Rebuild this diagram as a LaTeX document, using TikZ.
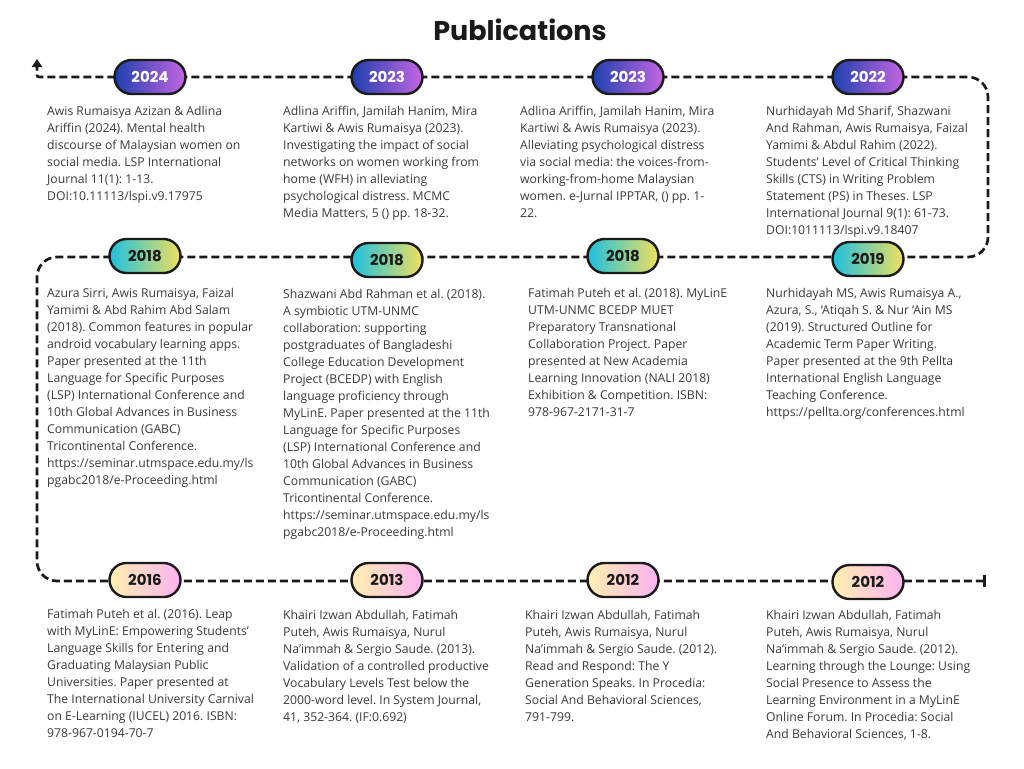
\documentclass[tikz,border=0pt]{standalone}
\usepackage{fontspec}
\setmainfont{Open Sans}
\newfontfamily\popfont{Poppins}
\usetikzlibrary{arrows.meta, positioning, backgrounds}
\frenchspacing

\definecolor{ink}{HTML}{1A1A1A}
\definecolor{bodytext}{HTML}{3A3A3A}
\definecolor{navy}{HTML}{1E3FAE}
\definecolor{orchid}{HTML}{C466E2}
\definecolor{aqua}{HTML}{1EC0DE}
\definecolor{lemon}{HTML}{F0E05E}
\definecolor{cream}{HTML}{FFF0B0}
\definecolor{rosy}{HTML}{FCB2F2}

\begin{document}
\begin{tikzpicture}[
  x=1pt, y=-1pt,
  every node/.style={font=\fontsize{12.2}{17}\selectfont, text=bodytext},
  pill/.style={rectangle, rounded corners=17pt, draw=ink, line width=2.4pt,
    minimum width=71pt, minimum height=34pt, inner sep=0pt,
    font=\popfont\bfseries\fontsize{15}{18}\selectfont},
  recent/.style={pill, left color=navy, right color=orchid, text=white},
  middle/.style={pill, left color=aqua, right color=lemon, text=ink},
  early/.style={pill, left color=cream, right color=rosy, text=ink},
  ref/.style={anchor=north west, align=left, inner sep=0pt},
  tl/.style={draw=ink, line width=2.7pt, dash pattern=on 8pt off 4pt, rounded corners=20pt}
]
\useasboundingbox (0,0) rectangle (1024,768);

% Title
\node[font=\popfont\bfseries\fontsize{27}{30}\selectfont, text=ink] (title) at (520,30) {Publications};

% Year pills
\node[recent] (y2024)  at (150,77)  {2024};
\node[recent] (y2023a) at (387,77)  {2023};
\node[recent] (y2023b) at (628,77)  {2023};
\node[recent] (y2022)  at (868,77)  {2022};
\node[middle] (y2018a) at (145,256) {2018};
\node[middle] (y2018b) at (387,260) {2018};
\node[middle] (y2018c) at (623,256) {2018};
\node[middle] (y2019)  at (868,259) {2019};
\node[early]  (y2016)  at (145,580) {2016};
\node[early]  (y2013)  at (387,580) {2013};
\node[early]  (y2012a) at (623,580) {2012};
\node[early]  (y2012b) at (868,582) {2012};

% References, top row
\node[ref] (r2024) at (47,106) {Awis Rumaisya Azizan \& Adlina\\Ariffin (2024). Mental health\\discourse of Malaysian women on\\social media. LSP International\\Journal 11(1): 1-13.\\DOI:10.11113/lspi.v9.17975};
\node[ref] (r2023a) at (283,106) {Adlina Ariffin, Jamilah Hanim, Mira\\Kartiwi \& Awis Rumaisya (2023).\\Investigating the impact of social\\networks on women working from\\home (WFH) in alleviating\\psychological distress. MCMC\\Media Matters, 5 () pp. 18-32.};
\node[ref] (r2023b) at (520,106) {Adlina Ariffin, Jamilah Hanim, Mira\\Kartiwi \& Awis Rumaisya (2023).\\Alleviating psychological distress\\via social media: the voices-from-\\working-from-home Malaysian\\women. e-Jurnal IPPTAR, () pp. 1-\\22.};
\node[ref] (r2022) at (766,106) {Nurhidayah Md Sharif, Shazwani\\And Rahman, Awis Rumaisya, Faizal\\Yamimi \& Abdul Rahim (2022).\\Students’ Level of Critical Thinking\\Skills (CTS) in Writing Problem\\Statement (PS) in Theses. LSP\\International Journal 9(1): 61-73.\\DOI:1011113/lspi.v9.18407};

% References, middle row
\node[ref] (r2018a) at (47,288) {Azura Sirri, Awis Rumaisya, Faizal\\Yamimi \& Abd Rahim Abd Salam\\(2018). Common features in popular\\android vocabulary learning apps.\\Paper presented at the 11th\\Language for Specific Purposes\\(LSP) International Conference and\\10th Global Advances in Business\\Communication (GABC)\\Tricontinental Conference.\\https://seminar.utmspace.edu.my/ls\\pgabc2018/e-Proceeding.html};
\node[ref] (r2018b) at (283,289) {Shazwani Abd Rahman et al. (2018).\\A symbiotic UTM-UNMC\\collaboration: supporting\\postgraduates of Bangladeshi\\College Education Development\\Project (BCEDP) with English\\language proficiency through\\MyLinE. Paper presented at the 11th\\Language for Specific Purposes\\(LSP) International Conference and\\10th Global Advances in Business\\Communication (GABC)\\Tricontinental Conference.\\https://seminar.utmspace.edu.my/ls\\pgabc2018/e-Proceeding.html};
\node[ref] (r2018c) at (528,288) {Fatimah Puteh et al. (2018). MyLinE\\UTM-UNMC BCEDP MUET\\Preparatory Transnational\\Collaboration Project. Paper\\presented at New Academia\\Learning Innovation (NALI 2018)\\Exhibition \& Competition. ISBN:\\978-967-2171-31-7};
\node[ref] (r2019) at (766,288) {Nurhidayah MS, Awis Rumaisya A.,\\Azura, S., ‘Atiqah S. \& Nur ‘Ain MS\\(2019). Structured Outline for\\Academic Term Paper Writing.\\Paper presented at the 9th Pellta\\International English Language\\Teaching Conference.\\https://pellta.org/conferences.html};

% References, bottom row
\node[ref] (r2016) at (47,609.5) {Fatimah Puteh et al. (2016). Leap\\with MyLinE: Empowering Students’\\Language Skills for Entering and\\Graduating Malaysian Public\\Universities. Paper presented at\\The International University Carnival\\on E-Learning (IUCEL) 2016. ISBN:\\978-967-0194-70-7};
\node[ref] (r2013) at (283,610.5) {Khairi Izwan Abdullah, Fatimah\\Puteh, Awis Rumaisya, Nurul\\Na’immah \& Sergio Saude. (2013).\\Validation of a controlled productive\\Vocabulary Levels Test below the\\2000-word level. In System Journal,\\41, 352-364. (IF:0.692)};
\node[ref] (r2012a) at (525,610.5) {Khairi Izwan Abdullah, Fatimah\\Puteh, Awis Rumaisya, Nurul\\Na’immah \& Sergio Saude. (2012).\\Read and Respond: The Y\\Generation Speaks. In Procedia:\\Social And Behavioral Sciences,\\791-799.};
\node[ref] (r2012b) at (766,610.5) {Khairi Izwan Abdullah, Fatimah\\Puteh, Awis Rumaisya, Nurul\\Na’immah \& Sergio Saude. (2012).\\Learning through the Lounge: Using\\Social Presence to Assess the\\Learning Environment in a MyLinE\\Online Forum. In Procedia: Social\\And Behavioral Sciences, 1-8.};

% Timeline corners
\coordinate (start)  at (986,581);
\coordinate (cbl)    at (37,581);
\coordinate (cml)    at (37,257);
\coordinate (cmr)    at (988,257);
\coordinate (ctr)    at (988,77);
\coordinate (ctl)    at (37,77);
\coordinate (finish) at (37,59);

% Timeline, behind the pills
\begin{scope}[on background layer]
  \fill[white] (0,0) rectangle (1024,768);
  \draw[tl, {Bar[width=12pt]}-{Triangle[length=8pt, width=10pt]}]
    (start) -- (cbl) -- (cml) -- (cmr) -- (ctr) [rounded corners=2pt] -- (ctl) -- (finish);
\end{scope}

\end{tikzpicture}
\end{document}
